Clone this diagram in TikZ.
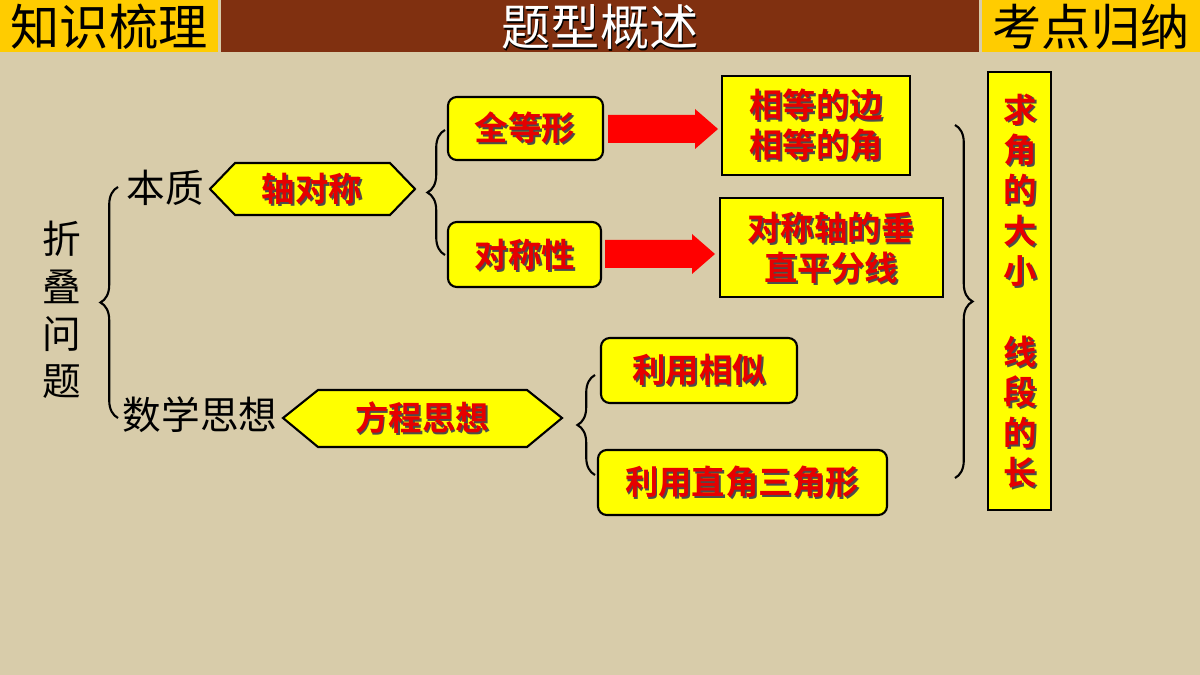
\documentclass[tikz,border=0pt]{standalone}
\usepackage{fontspec}
\newfontfamily\cjk{Noto Sans CJK SC}
\newfontfamily\cjkb{Noto Sans CJK SC Bold}
\usetikzlibrary{shapes.geometric,shapes.arrows,decorations.pathreplacing}
\definecolor{bg}{RGB}{216,204,170}
\definecolor{ylw}{RGB}{255,255,0}
\definecolor{hdr}{RGB}{255,204,0}
\definecolor{brn}{RGB}{128,48,16}
\definecolor{rd}{RGB}{230,0,0}
\tikzset{
 box/.style={draw=black,line width=1.2pt,fill=ylw,rounded corners=5pt,inner sep=0pt},
 lbl/.style={font=\cjkb\fontsize{19}{23}\selectfont,text=rd,align=center},
 brc/.style={decorate,decoration={brace,amplitude=10pt},line width=1.2pt},
 plain/.style={font=\cjk\fontsize{22}{26}\selectfont},
}
\newcommand{\mylbl}[3]{\node[lbl,text=black!70,xshift=1pt,yshift=-1pt] at (#1) {#3};\node[lbl] (#2) at (#1) {#3};}
\begin{document}
\begin{tikzpicture}[x=0.02cm,y=-0.02cm]
\fill[bg] (0,0) rectangle (1200,675);
\useasboundingbox (0,0) rectangle (1200,675);
% header
\fill[hdr] (0,0) rectangle (218,52);
\fill[brn] (221,0) rectangle (979,52);
\fill[hdr] (982,0) rectangle (1200,52);
\node[font=\cjk\fontsize{28}{30}\selectfont] (h1) at (109,27) {知识梳理};
\node[font=\cjk\fontsize{28}{30}\selectfont,text=black] at (601,29) {题型概述};
\node[font=\cjk\fontsize{28}{30}\selectfont,text=white] (h2) at (600,27) {题型概述};
\node[font=\cjk\fontsize{28}{30}\selectfont] (h3) at (1091,27) {考点归纳};
% left
\node[plain,align=center,font=\cjk\fontsize{22}{27}\selectfont] (zd) at (62,310) {折\\叠\\问\\题};
\draw[brc] (118,418) -- (118,187);
\node[plain] (bz) at (165,188) {本质};
\node[plain] (sx) at (200,415) {数学思想};
% hexagons
\draw[box,rounded corners=0pt] (210,189) -- (235,163) -- (390,163) -- (415,189) -- (390,215) -- (235,215) -- cycle;
\mylbl{312,189}{dcz}{轴对称}
\draw[box,rounded corners=0pt] (283,418) -- (318,390) -- (527,390) -- (562,418) -- (527,447) -- (318,447) -- cycle;
\mylbl{422,418}{fc}{方程思想}
% braces
\draw[brc] (445,255) -- (445,130);
\draw[brc] (595,475) -- (595,375);
\draw[brc] (955,125) -- (955,478);
% boxes
\draw[box] (448,97) rectangle (603,160); \mylbl{525,128}{qdx}{全等形}
\draw[box] (448,222) rectangle (601,287); \mylbl{525,255}{dcx}{对称性}
\draw[box,rounded corners=0pt] (722,76) rectangle (910,175); \mylbl{816,125}{xd}{相等的边\\相等的角}
\draw[box,rounded corners=0pt] (720,198) rectangle (943,297); \mylbl{831,248}{zx}{对称轴的垂\\直平分线}
\draw[box] (601,338) rectangle (797,403); \mylbl{699,370}{lx}{利用相似}
\draw[box] (598,450) rectangle (887,515); \mylbl{742,482}{lz}{利用直角三角形}
\draw[box,rounded corners=0pt] (988,72) rectangle (1051,510);
\mylbl{1020,291}{qj}{求\\角\\的\\大\\小\\ \\线\\段\\的\\长}
% arrows
\fill[red] (608,115) -- (695,115) -- (695,109) -- (718,129) -- (695,149) -- (695,143) -- (608,143) -- cycle;
\fill[red] (605,240) -- (692,240) -- (692,234) -- (715,254) -- (692,274) -- (692,268) -- (605,268) -- cycle;
\end{tikzpicture}
\end{document}
